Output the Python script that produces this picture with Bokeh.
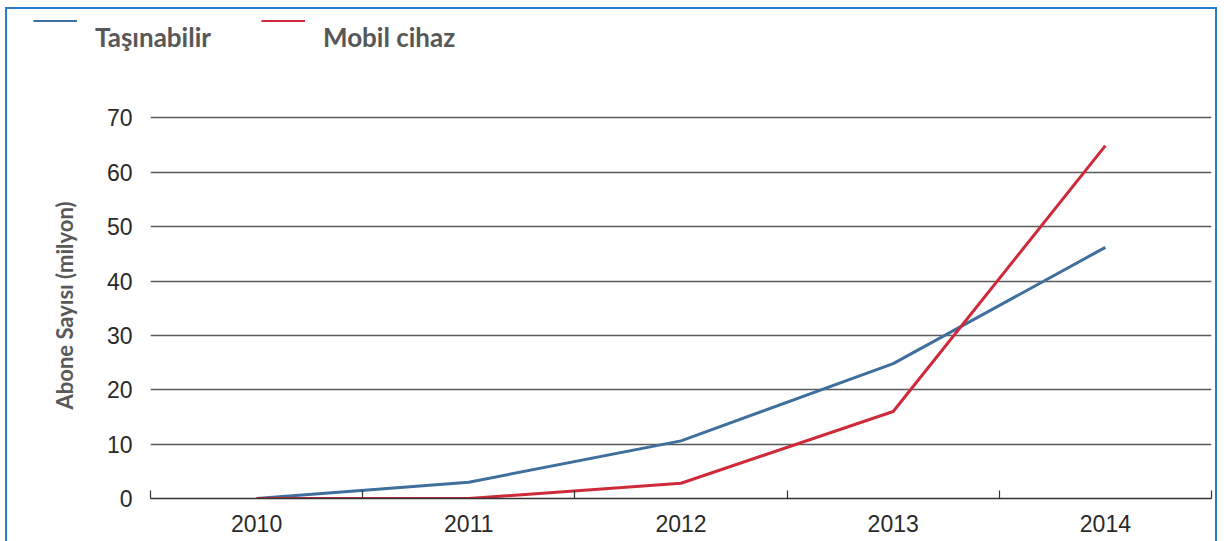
from bokeh.plotting import figure
from bokeh.layouts import column
from bokeh.models import FixedTicker, Legend, LegendItem, Range1d
from bokeh.embed import file_html
from bokeh.resources import INLINE

years = [2010, 2011, 2012, 2013, 2014]
year_labels = ["2010", "2011", "2012", "2013", "2014"]
tasinabilir = [0, 3, 10.6, 24.8, 46.2]
mobil_cihaz = [0, 0, 2.8, 16, 64.9]
y_ticks = [0, 10, 20, 30, 40, 50, 60, 70]
series_names = ["Taşınabilir", "Mobil cihaz"]
colors = ["#3f6f9d", "#cf2a3a"]

# ---- legend strip (top) ----
lg = figure(width=1208, height=60, output_backend="svg", toolbar_location=None,
            x_range=Range1d(0, 1), y_range=Range1d(0, 1),
            x_axis_location=None, y_axis_location=None,
            min_border_left=0, min_border_right=0, min_border_top=0, min_border_bottom=0)
lg.frame_align = False
lg.grid.visible = False
lg.outline_line_color = None
lr1 = lg.line(years, tasinabilir, line_color=colors[0], line_width=3)
lr2 = lg.line(years, mobil_cihaz, line_color=colors[1], line_width=3)
legend = Legend(items=[LegendItem(label="\n" + series_names[0], renderers=[lr1]),
                       LegendItem(label="\n" + series_names[1], renderers=[lr2])],
                orientation="horizontal", location=(26, 16),
                glyph_width=44, glyph_height=2, label_height=20,
                label_standoff=18, spacing=50, padding=0, margin=0,
                border_line_color=None, background_fill_alpha=0,
                label_text_font="Lato", label_text_font_style="bold",
                label_text_font_size="26px", label_text_color="#575757",
                label_text_line_height=1.4)
lg.add_layout(legend, "center")

# ---- main chart ----
p = figure(width=1208, height=472, output_backend="svg", toolbar_location=None,
           x_range=Range1d(years[0] - 0.5, years[-1] + 0.5),
           y_range=Range1d(0, 71),
           min_border_left=143, min_border_right=4, min_border_top=43, min_border_bottom=43)
p.frame_align = False
p.outline_line_color = None

p.line(years, tasinabilir, line_color=colors[0], line_width=3)
p.line(years, mobil_cihaz, line_color=colors[1], line_width=3)

xa = p.xaxis[0]
xa.ticker = FixedTicker(ticks=years, minor_ticks=[y - 0.5 for y in years] + [years[-1] + 0.5])
xa.major_label_overrides = {y: l for y, l in zip(years, year_labels)}
xa.major_tick_line_color = None
xa.minor_tick_in = 8
xa.minor_tick_out = 0
xa.minor_tick_line_color = "#333333"
xa.minor_tick_line_width = 1.2
xa.axis_line_color = "#333333"
xa.axis_line_width = 1.5
xa.major_label_text_font = "Liberation Sans"
xa.major_label_text_font_size = "23px"
xa.major_label_text_color = "#2a2a2a"
xa.major_label_standoff = 10

ya = p.yaxis[0]
ya.ticker = FixedTicker(ticks=y_ticks)
ya.axis_line_color = None
ya.major_tick_line_color = None
ya.minor_tick_line_color = None
ya.major_label_text_font = "Liberation Sans"
ya.major_label_text_font_size = "23px"
ya.major_label_text_color = "#2a2a2a"
ya.major_label_standoff = 12
ya.axis_label = "Abone Sayısı (milyon)"
ya.axis_label_text_font = "Lato"
ya.axis_label_text_font_style = "bold"
ya.axis_label_text_font_size = "22px"
ya.axis_label_text_color = "#595959"
ya.axis_label_standoff = 26

p.xgrid.grid_line_color = None
p.ygrid.ticker = FixedTicker(ticks=y_ticks)
p.ygrid.grid_line_color = "#5a5a5a"
p.ygrid.grid_line_width = 1.5

layout = column(lg, p, spacing=0,
                styles={"border-top": "2px solid #2b7bca", "border-left": "2px solid #2b7bca",
                        "border-right": "2px solid #2b7bca", "margin-left": "5px",
                        "margin-top": "7px"})

open("out.html", "w").write(file_html(layout, INLINE))
